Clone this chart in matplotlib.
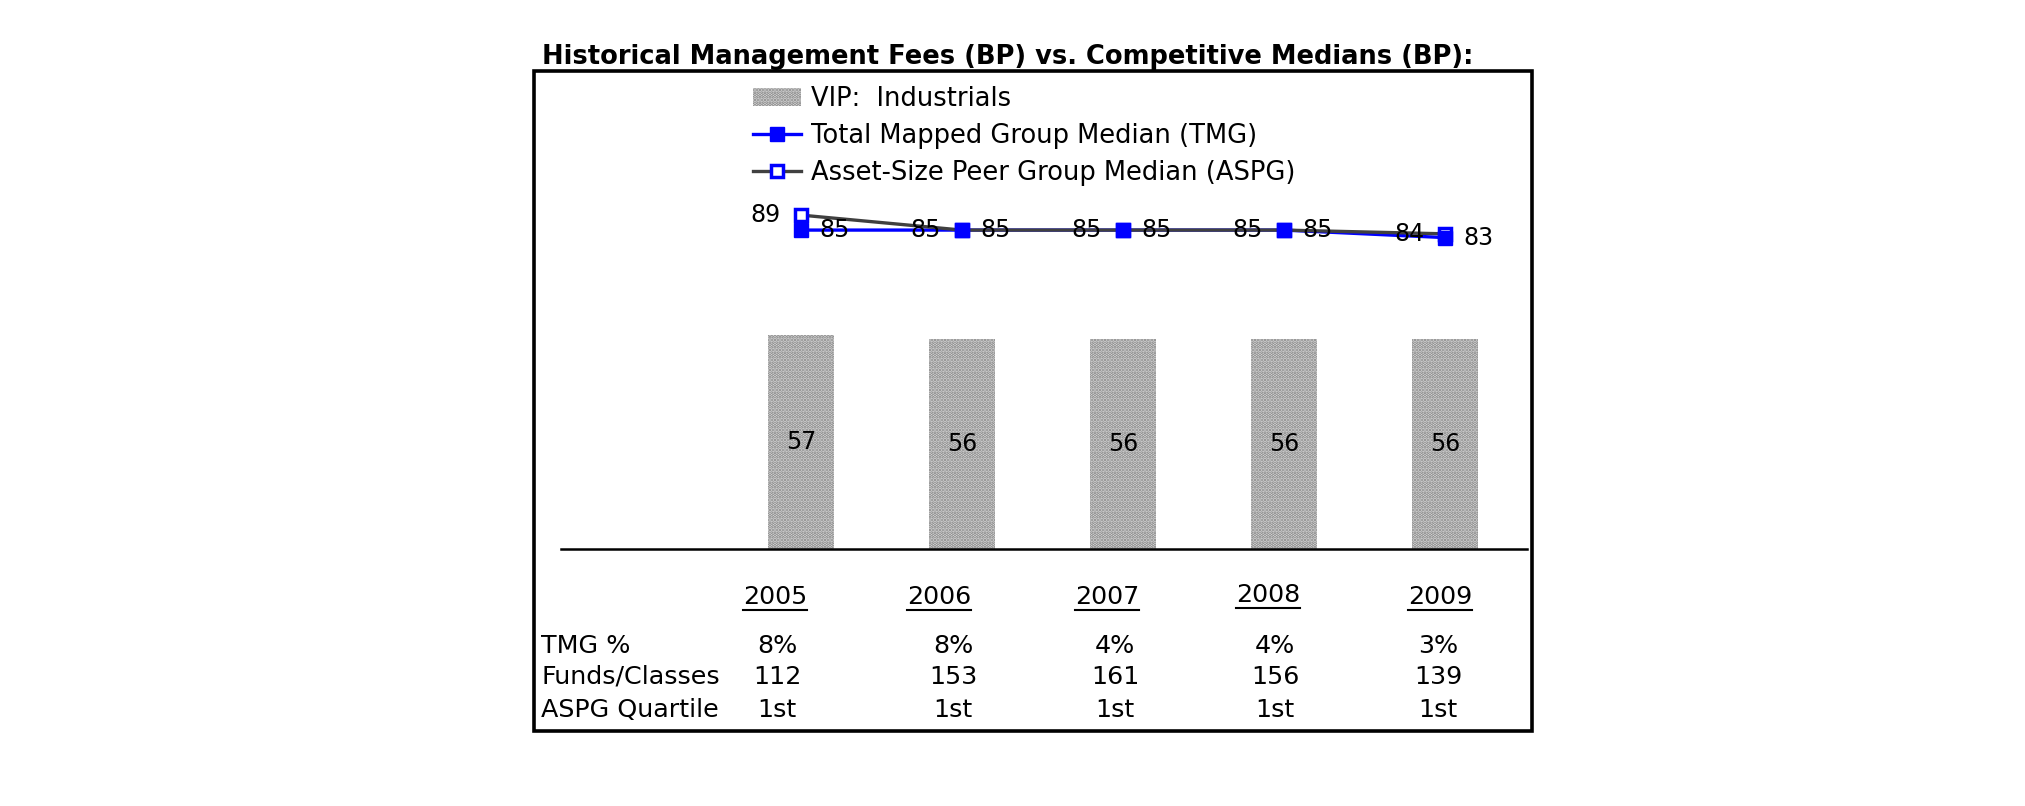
import numpy as np
import matplotlib
matplotlib.use('Agg')
import matplotlib.pyplot as plt
from matplotlib.patches import Rectangle, Patch
from matplotlib.lines import Line2D

# ---------------- data ----------------
years = ['2005', '2006', '2007', '2008', '2009']
vip_fees = [57, 56, 56, 56, 56]
tmg_median = [85, 85, 85, 85, 83]
aspg_median = [89, 85, 85, 85, 84]
tmg_pct = ['8%', '8%', '4%', '4%', '3%']
funds_classes = ['112', '153', '161', '156', '139']
aspg_quartile = ['1st', '1st', '1st', '1st', '1st']
row_labels = ['TMG %', 'Funds/Classes', 'ASPG Quartile']
title = 'Historical Management Fees (BP) vs. Competitive Medians (BP):'
legend_labels = ['VIP:  Industrials', 'Total Mapped Group Median (TMG)',
                 'Asset-Size Peer Group Median (ASPG)']

# ---------------- layout ----------------
W, H = 2025, 806
plt.rcParams['font.family'] = ['DejaVu Sans']
plt.rcParams['hatch.linewidth'] = 1.8
fig = plt.figure(figsize=(W / 100, H / 100), dpi=100)


def fx(px):
    return px / W


def fy(py):
    return 1 - py / H


BAR_FACE = '#e0e0e0'
HATCH_COL = '#808080'
BLUE = '#0000ff'
GREY = '#404040'

ax = fig.add_axes([fx(561), fy(549), fx(1527) - fx(561), fy(80) - fy(549)])
x = np.arange(len(years))
ax.set_xlim(-1.49, 4.51)
ax.set_ylim(0, 125)

ax.bar(x, vip_fees, width=0.41, color=BAR_FACE, edgecolor=HATCH_COL,
       hatch='.....', linewidth=0, zorder=2)
for xi, v in zip(x, vip_fees):
    ax.text(xi, v / 2, str(v), ha='center', va='center', fontsize=17, zorder=6)

ax.plot(x, tmg_median, color=BLUE, lw=2.4, zorder=3)
ax.plot(x, aspg_median, color=GREY, lw=2.4, marker='s', ms=9,
        mfc='white', mec=BLUE, mew=2.5, zorder=4)
ax.plot(x, tmg_median, ls='none', marker='s', ms=10, color=BLUE, zorder=5)

for xi, v in zip(x, tmg_median):
    ax.annotate(str(v), (xi, v), xytext=(13, 0), textcoords='offset points',
                ha='left', va='center', fontsize=17, zorder=6)
for xi, v in zip(x, aspg_median):
    ax.annotate(str(v), (xi, v), xytext=(-15, 0), textcoords='offset points',
                ha='right', va='center', fontsize=17, zorder=6)

for s in ['top', 'left', 'right']:
    ax.spines[s].set_visible(False)
ax.spines['bottom'].set_linewidth(1.8)
ax.spines['bottom'].set_color('black')
ax.set_xticks([])
ax.set_yticks([])
ax.patch.set_alpha(0)

# legend
handles = [
    Patch(facecolor=BAR_FACE, edgecolor=HATCH_COL, hatch='.....', linewidth=0),
    Line2D([], [], color=BLUE, lw=2.4, marker='s', ms=10, mfc=BLUE, mec=BLUE),
    Line2D([], [], color=GREY, lw=2.4, marker='s', ms=8, mfc='white', mec=BLUE, mew=2.5),
]
fig.legend(handles, legend_labels, loc='upper left',
           bbox_to_anchor=(fx(753), fy(86)), frameon=False, fontsize=18.5,
           handlelength=1.87, handletextpad=0.38, labelspacing=0.42,
           borderpad=0, borderaxespad=0, handleheight=0.7)

# title
fig.text(fx(542), fy(57), title, fontsize=18.5, fontweight='bold',
         ha='left', va='center')

# frame
fig.add_artist(Rectangle((fx(534), fy(731)), fx(1532) - fx(534), fy(71) - fy(731),
                         transform=fig.transFigure, fill=False,
                         edgecolor='black', linewidth=2.6))

# table beneath
year_x = [775, 939, 1107, 1268, 1440]
year_y = [597, 597, 597, 595, 597]
col_x = [777, 953, 1115, 1275, 1438]
row_y = [646, 677, 710]
tfs = 18.3

year_texts = []
for yr, px, py in zip(years, year_x, year_y):
    year_texts.append(fig.text(fx(px), fy(py), yr, fontsize=tfs,
                               ha='center', va='center'))
for lab, py in zip(row_labels, row_y):
    fig.text(fx(541), fy(py), lab, fontsize=tfs, ha='left', va='center')
for vals, py in zip([tmg_pct, funds_classes, aspg_quartile], row_y):
    for v, px in zip(vals, col_x):
        fig.text(fx(px), fy(py), v, fontsize=tfs, ha='center', va='center')

# underline the years
fig.canvas.draw()
r = fig.canvas.get_renderer()
for t in year_texts:
    bb = t.get_window_extent(r)
    yline = bb.y0 - 1
    fig.add_artist(Line2D([bb.x0 / W, bb.x1 / W], [yline / H, yline / H],
                          transform=fig.transFigure, color='black', lw=1.5))

fig.savefig('out.png', dpi=100)
